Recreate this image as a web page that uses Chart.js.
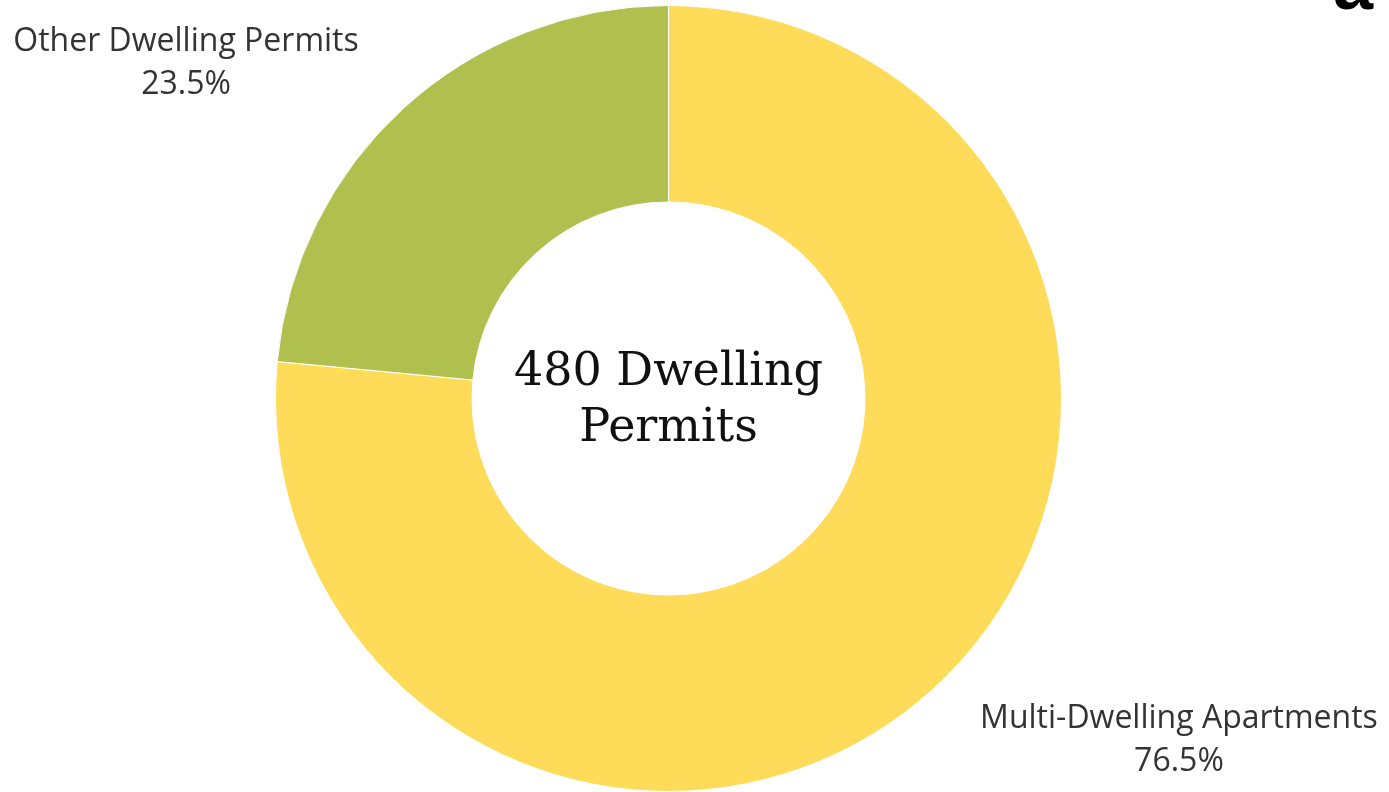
<!DOCTYPE html>
<html>
<head>
<meta charset="utf-8">
<title>Dwelling Permits</title>
<script src="https://cdn.jsdelivr.net/npm/chart.js@4.4.1/dist/chart.umd.min.js"></script>
<style>
  html, body { margin: 0; padding: 0; background: #ffffff; }
  #wrap { position: relative; width: 1389px; height: 792px; overflow: hidden; }
</style>
</head>
<body>
<div id="wrap"><canvas id="myChart" width="1389" height="792"></canvas></div>
<script>
// Permit breakdown
var categories = ['Multi-Dwelling Apartments', 'Other Dwelling Permits'];
var shares = [76.5, 23.5];
var sliceColors = ['#FEDC5A', '#B0C04F'];
var totalPermits = 480;
var centerLines = [totalPermits + ' Dwelling', 'Permits'];

// Slice labels drawn outside the ring, name on top and percentage below
var sliceLabels = {
  id: 'sliceLabels',
  afterDraw: function(chart) {
    var ctx = chart.ctx;
    var meta = chart.getDatasetMeta(0);
    ctx.save();
    ctx.fillStyle = '#333333';
    ctx.font = '32px "Open Sans", "Noto Sans", sans-serif';
    ctx.textAlign = 'center';
    ctx.textBaseline = 'middle';
    meta.data.forEach(function(arc, i) {
      var mid = (arc.startAngle + arc.endAngle) / 2;
      var ox = arc.x + Math.cos(mid) * arc.outerRadius;
      var oy = arc.y + Math.sin(mid) * arc.outerRadius;
      var sx = Math.cos(mid) >= 0 ? 1 : -1;
      var sy = Math.sin(mid) >= 0 ? 1 : -1;
      var lx = ox + sx * (sx > 0 ? 246 : 218);
      var ly = oy + sy * 48;
      ctx.fillText(categories[i], lx, ly - 18);
      ctx.fillText(shares[i].toFixed(1) + '%', lx, ly + 25);
    });
    ctx.restore();
  }
};

// Total in the hole of the doughnut
var centerText = {
  id: 'centerText',
  afterDraw: function(chart) {
    var ctx = chart.ctx;
    var arc = chart.getDatasetMeta(0).data[0];
    ctx.save();
    ctx.fillStyle = '#111111';
    ctx.font = '46px "DejaVu Serif", "Liberation Serif", serif';
    ctx.textAlign = 'center';
    ctx.textBaseline = 'middle';
    ctx.fillText(centerLines[0], arc.x, arc.y - 25);
    ctx.fillText(centerLines[1], arc.x, arc.y + 31);
    // cut-off letter at the top right edge
    ctx.font = 'bold 72px "Liberation Sans", sans-serif';
    ctx.textBaseline = 'alphabetic';
    ctx.fillStyle = '#000000';
    ctx.fillText('a', 1353, 9);
    ctx.restore();
  }
};

var ctx = document.getElementById('myChart').getContext('2d');
var myChart = new Chart(ctx, {
  type: 'doughnut',
  data: {
    labels: categories,
    datasets: [{
      data: shares,
      backgroundColor: sliceColors,
      borderColor: '#ffffff',
      borderWidth: 1
    }]
  },
  options: {
    responsive: false,
    animation: false,
    cutout: '50%',
    layout: { padding: { top: 5, bottom: 0, left: 0, right: 52 } },
    plugins: {
      legend: { display: false },
      tooltip: { enabled: false }
    }
  },
  plugins: [sliceLabels, centerText]
});
</script>
</body>
</html>
